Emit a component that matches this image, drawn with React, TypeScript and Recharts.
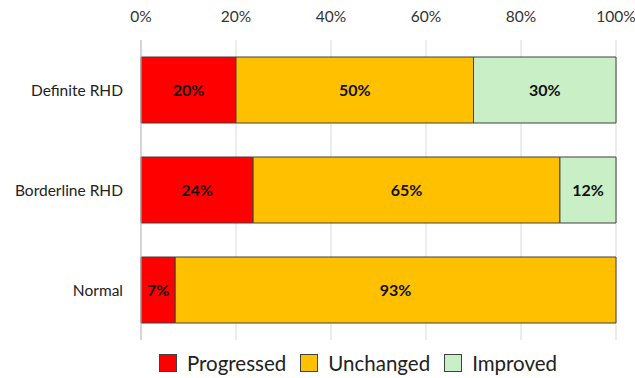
import React from 'react';
import { BarChart, Bar, XAxis, YAxis, CartesianGrid, Legend, LabelList } from 'recharts';

const categories = ['Definite RHD', 'Borderline RHD', 'Normal'];
const progressed = [20, 23.6, 7.2];
const unchanged = [50, 64.6, 92.8];
const improved = [30, 11.8, 0];
const xTicks = [0, 20, 40, 60, 80, 100];

const series = [
  { key: 'progressed', name: 'Progressed', color: '#ff0000' },
  { key: 'unchanged', name: 'Unchanged', color: '#ffc000' },
  { key: 'improved', name: 'Improved', color: '#c9efc6' },
];

const data = categories.map((name, i) => ({
  name,
  progressed: progressed[i],
  unchanged: unchanged[i],
  improved: improved[i],
}));

const FONT = 'Lato, "Open Sans", sans-serif';

const pct = (v: any) => (Number(v) > 0 ? `${Math.round(Number(v))}%` : '');

const LegendContent = () => (
  <div style={{ display: 'flex', justifyContent: 'center', alignItems: 'center', fontFamily: FONT, fontSize: 20.5, color: '#222', height: 30, paddingLeft: 100, paddingTop: 8 }}>
    {series.map((s) => (
      <div key={s.key} style={{ display: 'flex', alignItems: 'center', margin: '0 7px' }}>
        <span style={{ width: 16, height: 16, background: s.color, border: '1px solid #404040', marginRight: 10, display: 'inline-block' }} />
        <span>{s.name}</span>
      </div>
    ))}
  </div>
);

export default function App() {
  return (
    <div style={{ position: 'absolute', left: 0, top: 0, width: 635, height: 378, background: '#fff' }}>
      <BarChart
        width={635}
        height={378}
        data={data}
        layout="vertical"
        margin={{ top: 10, right: 19, left: 0, bottom: 8 }}
        barSize={66}
      >
        <CartesianGrid horizontal={false} stroke="#d9d9d9" />
        <XAxis
          type="number"
          orientation="top"
          domain={[0, 100]}
          ticks={xTicks}
          tickFormatter={(v: number) => `${v}%`}
          axisLine={false}
          tickLine={false}
          tickMargin={12}
          height={30}
          tick={{ fill: '#333', fontSize: 15.5, fontFamily: FONT }}
        />
        <YAxis
          type="category"
          dataKey="name"
          width={141}
          axisLine={{ stroke: '#bfbfbf' }}
          tickLine={false}
          tickMargin={12}
          tick={{ fill: '#222', fontSize: 15.5, fontFamily: FONT }}
        />
        <Legend verticalAlign="bottom" height={30} content={<LegendContent />} />
        {series.map((s) => (
          <Bar key={s.key} dataKey={s.key} name={s.name} stackId="a" fill={s.color} stroke="#404040" strokeWidth={1} isAnimationActive={false}>
            <LabelList dataKey={s.key} position="center" formatter={pct} fill="#111" fontSize={16} fontWeight="bold" fontFamily={FONT} />
          </Bar>
        ))}
      </BarChart>
    </div>
  );
}
